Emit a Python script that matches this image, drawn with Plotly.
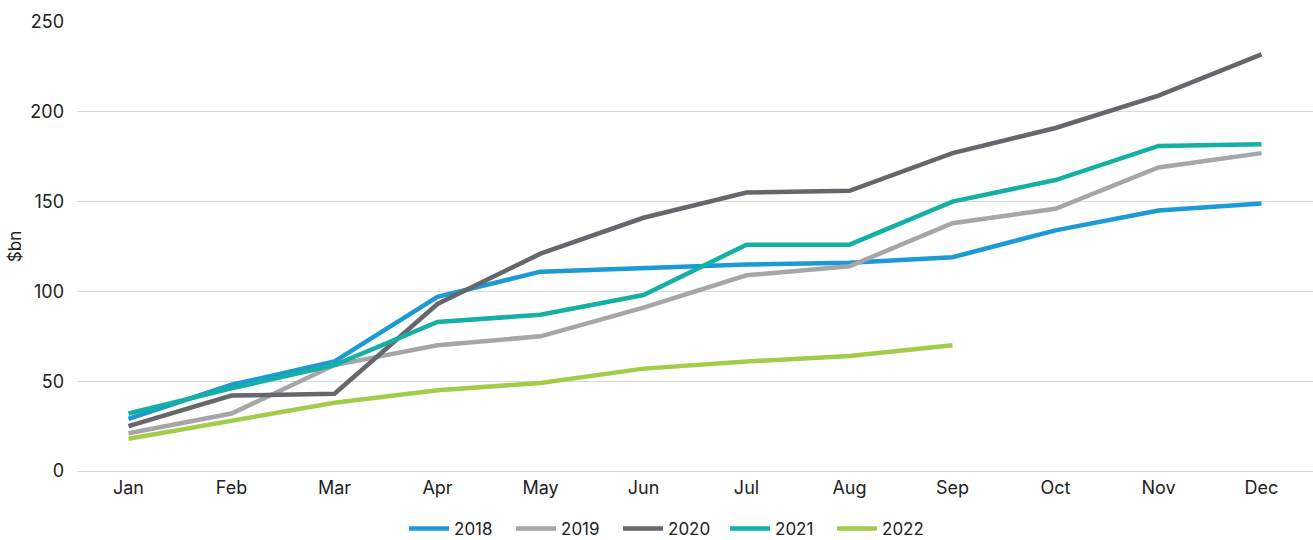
import plotly.graph_objects as go

months = ["Jan", "Feb", "Mar", "Apr", "May", "Jun", "Jul", "Aug", "Sep", "Oct", "Nov", "Dec"]
y2018 = [29, 48, 61, 97, 111, 113, 115, 116, 119, 134, 145, 149]
y2019 = [21, 32, 59, 70, 75, 91, 109, 114, 138, 146, 169, 177]
y2020 = [25, 42, 43, 93, 121, 141, 155, 156, 177, 191, 209, 232]
y2021 = [32, 46, 59, 83, 87, 98, 126, 126, 150, 162, 181, 182]
y2022 = [18, 28, 38, 45, 49, 57, 61, 64, 70]

series = [
    ("2018", y2018, "#1B9AD6"),
    ("2019", y2019, "#A6A6A8"),
    ("2020", y2020, "#66676C"),
    ("2021", y2021, "#14B0A4"),
    ("2022", y2022, "#A2CD4A"),
]

fig = go.Figure()
for name, vals, color in series:
    fig.add_trace(go.Scatter(
        x=months[:len(vals)], y=vals, name=name, mode="lines",
        line=dict(color=color, width=4.5),
    ))

fig.update_layout(
    width=1313, height=540,
    margin=dict(l=77, r=0, t=22, b=69, autoexpand=False),
    plot_bgcolor="white", paper_bgcolor="white",
    font=dict(family="Inter, Roboto, sans-serif", size=18, color="#222222"),
    showlegend=True,
    legend=dict(orientation="h", x=0.481, xanchor="center", y=-0.089, yanchor="top",
                font=dict(size=17, color="#222222"), itemwidth=40, tracegroupgap=0,
                entrywidth=52, entrywidthmode="pixels"),
    xaxis=dict(type="category", categoryorder="array", categoryarray=months,
               range=[-0.5, 11.5], showgrid=False, showline=False, zeroline=False,
               ticks="", tickfont=dict(size=18), ticklabelstandoff=4),
    yaxis=dict(range=[0, 250], dtick=50, showgrid=True, gridcolor="#d9d9d9", gridwidth=1,
               zeroline=True, zerolinecolor="#d9d9d9", zerolinewidth=1, showline=False,
               ticks="", ticklabelstandoff=12, tickfont=dict(size=18),
               title=dict(text="$bn", font=dict(size=17), standoff=4)),
)

fig.write_html("out.html")
